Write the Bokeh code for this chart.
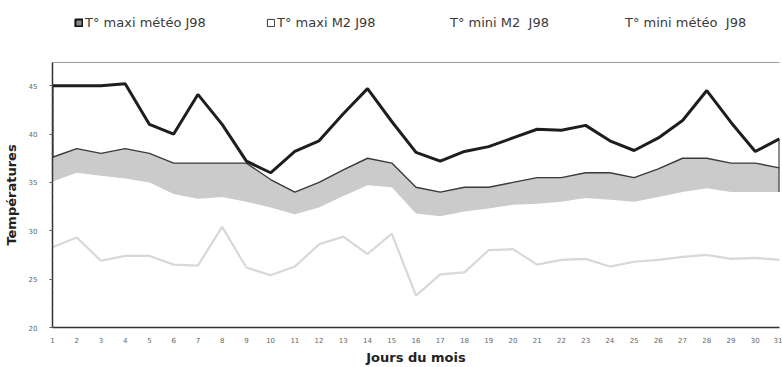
from bokeh.plotting import figure
from bokeh.layouts import column
from bokeh.models import (Range1d, LinearAxis, FixedTicker, Legend, LegendItem,
                          ColumnDataSource)
from bokeh.embed import file_html
from bokeh.resources import INLINE

# ---- data ----
days = list(range(1, 32))
max_meteo = [45.0, 45.0, 45.0, 45.2, 41.0, 40.0, 44.1, 41.0, 37.2, 36.0, 38.2, 39.3, 42.1, 44.7, 41.3,
             38.1, 37.2, 38.2, 38.7, 39.6, 40.5, 40.4, 40.9, 39.3, 38.3, 39.6, 41.4, 44.5, 41.2, 38.2, 39.5]
max_m2 = [37.6, 38.5, 38.0, 38.5, 38.0, 37.0, 37.0, 37.0, 37.0, 35.3, 34.0, 35.0, 36.3, 37.5, 37.0,
          34.5, 34.0, 34.5, 34.5, 35.0, 35.5, 35.5, 36.0, 36.0, 35.5, 36.4, 37.5, 37.5, 37.0, 37.0, 36.5]
min_m2 = [35.1, 36.0, 35.7, 35.4, 35.0, 33.8, 33.3, 33.5, 33.0, 32.4, 31.7, 32.4, 33.6, 34.7, 34.5,
          31.8, 31.5, 32.0, 32.3, 32.7, 32.8, 33.0, 33.4, 33.2, 33.0, 33.5, 34.0, 34.4, 34.0, 34.0, 34.0]
min_meteo = [28.3, 29.3, 26.9, 27.4, 27.4, 26.5, 26.4, 30.4, 26.2, 25.4, 26.3, 28.6, 29.4, 27.6, 29.7,
             23.3, 25.5, 25.7, 28.0, 28.1, 26.5, 27.0, 27.1, 26.3, 26.8, 27.0, 27.3, 27.5, 27.1, 27.2, 27.0]
series_labels = ["T° maxi météo J98", "T° maxi M2 J98", "T° mini M2  J98", "T° mini météo  J98"]
y_ticks = [20, 25, 30, 35, 40, 45]

FONT = "DejaVu Sans"
NAN = float("nan")

# ---- legend strip (own small figure on top; its frame is aligned with the chart's) ----
LEG_H = 50
lf = figure(width=782, height=LEG_H, output_backend="svg", toolbar_location=None,
            x_range=Range1d(0, 1), y_range=Range1d(0, 1),
            x_axis_type=None, y_axis_type=None,
            min_border_left=0, min_border_right=0, min_border_top=0, min_border_bottom=0,
            background_fill_color="white", border_fill_color="white")
lf.grid.visible = False
lf.outline_line_color = None

# legend swatch proxies: one undefined (NaN) quad each, so nothing is drawn in the strip
proxy = ColumnDataSource(data=dict(l=[NAN], r=[NAN], t=[NAN], b=[NAN]))
r1 = lf.quad(left="l", right="r", top="t", bottom="b", source=proxy,
             fill_color="#8a8a8a", line_color="#111111", line_width=2)
r2 = lf.quad(left="l", right="r", top="t", bottom="b", source=proxy,
             fill_color="white", line_color="#333333", line_width=1)
r3 = lf.quad(left="l", right="r", top="t", bottom="b", source=proxy,
             fill_alpha=0, line_alpha=0)
r4 = lf.quad(left="l", right="r", top="t", bottom="b", source=proxy,
             fill_alpha=0, line_alpha=0)

legend_x = [22, 214, 387, 562]
for lab, rend, lx in zip(series_labels, [r1, r2, r3, r4], legend_x):
    lg = Legend(items=[LegendItem(label=lab, renderers=[rend])],
                orientation="horizontal", location=(lx, 18),
                padding=0, margin=0, spacing=0,
                glyph_width=9, glyph_height=9, label_standoff=2,
                label_text_font=FONT, label_text_font_size="13px",
                label_text_color="#3a3a3a", label_height=20,
                border_line_color=None, background_fill_alpha=0)
    lf.add_layout(lg, "center")

# ---- main chart ----
p = figure(width=782, height=367 - LEG_H, output_backend="svg", toolbar_location=None,
           x_range=Range1d(1, 31), y_range=Range1d(20, 47.4),
           min_border_left=52, min_border_right=3, min_border_top=62 - LEG_H, min_border_bottom=40,
           background_fill_color="white", border_fill_color="white")
p.grid.visible = False
p.outline_line_color = None

p.varea(x=days, y1=min_m2, y2=max_m2, fill_color="#cbcbcb", fill_alpha=1.0)
p.line(days, max_m2, line_color="#3a3a3a", line_width=1.4)
p.line(days, min_meteo, line_color="#d8d8d8", line_width=2.2)
p.line(days, max_meteo, line_color="#1e1e1e", line_width=3)
p.segment(x0=[days[0], days[-1]], y0=[max_meteo[0], max_meteo[-1]],
          x1=[days[0], days[-1]], y1=[max_m2[0], min_m2[-1]],
          line_color="#1e1e1e", line_width=2)

xa = p.xaxis[0]
xa.ticker = FixedTicker(ticks=days)
xa.axis_line_color = "#333333"
xa.axis_line_width = 1.5
xa.major_tick_out = 0
xa.major_tick_in = 0
xa.minor_tick_out = 0
xa.major_label_standoff = 9
xa.major_label_text_font = FONT
xa.major_label_text_font_size = "7px"
xa.major_label_text_color = "#666666"
xa.axis_label = "Jours du mois"
xa.axis_label_text_font = FONT
xa.axis_label_text_font_style = "bold"
xa.axis_label_text_font_size = "13px"
xa.axis_label_text_color = "#222222"
xa.axis_label_standoff = 4

ya = p.yaxis[0]
ya.ticker = FixedTicker(ticks=y_ticks, minor_ticks=list(range(20, 48)))
ya.axis_line_color = "#333333"
ya.axis_line_width = 1.5
ya.major_tick_out = 3
ya.major_tick_in = 0
ya.minor_tick_out = 1
ya.minor_tick_in = 0
ya.major_tick_line_color = "#555555"
ya.minor_tick_line_color = "#777777"
ya.major_label_standoff = 12
ya.major_label_text_font = FONT
ya.major_label_text_font_size = "7px"
ya.major_label_text_color = "#666666"
ya.axis_label = "Températures"
ya.axis_label_text_font = FONT
ya.axis_label_text_font_style = "bold"
ya.axis_label_text_font_size = "13px"
ya.axis_label_text_color = "#222222"
ya.axis_label_standoff = 7

top = LinearAxis(ticker=FixedTicker(ticks=[]), major_label_text_font_size="0px",
                 axis_line_color="#9a9a9a", axis_line_width=1,
                 major_tick_out=0, minor_tick_out=0)
p.add_layout(top, "above")

layout = column(lf, p, spacing=0)
open("out.html", "w").write(file_html(layout, INLINE))
